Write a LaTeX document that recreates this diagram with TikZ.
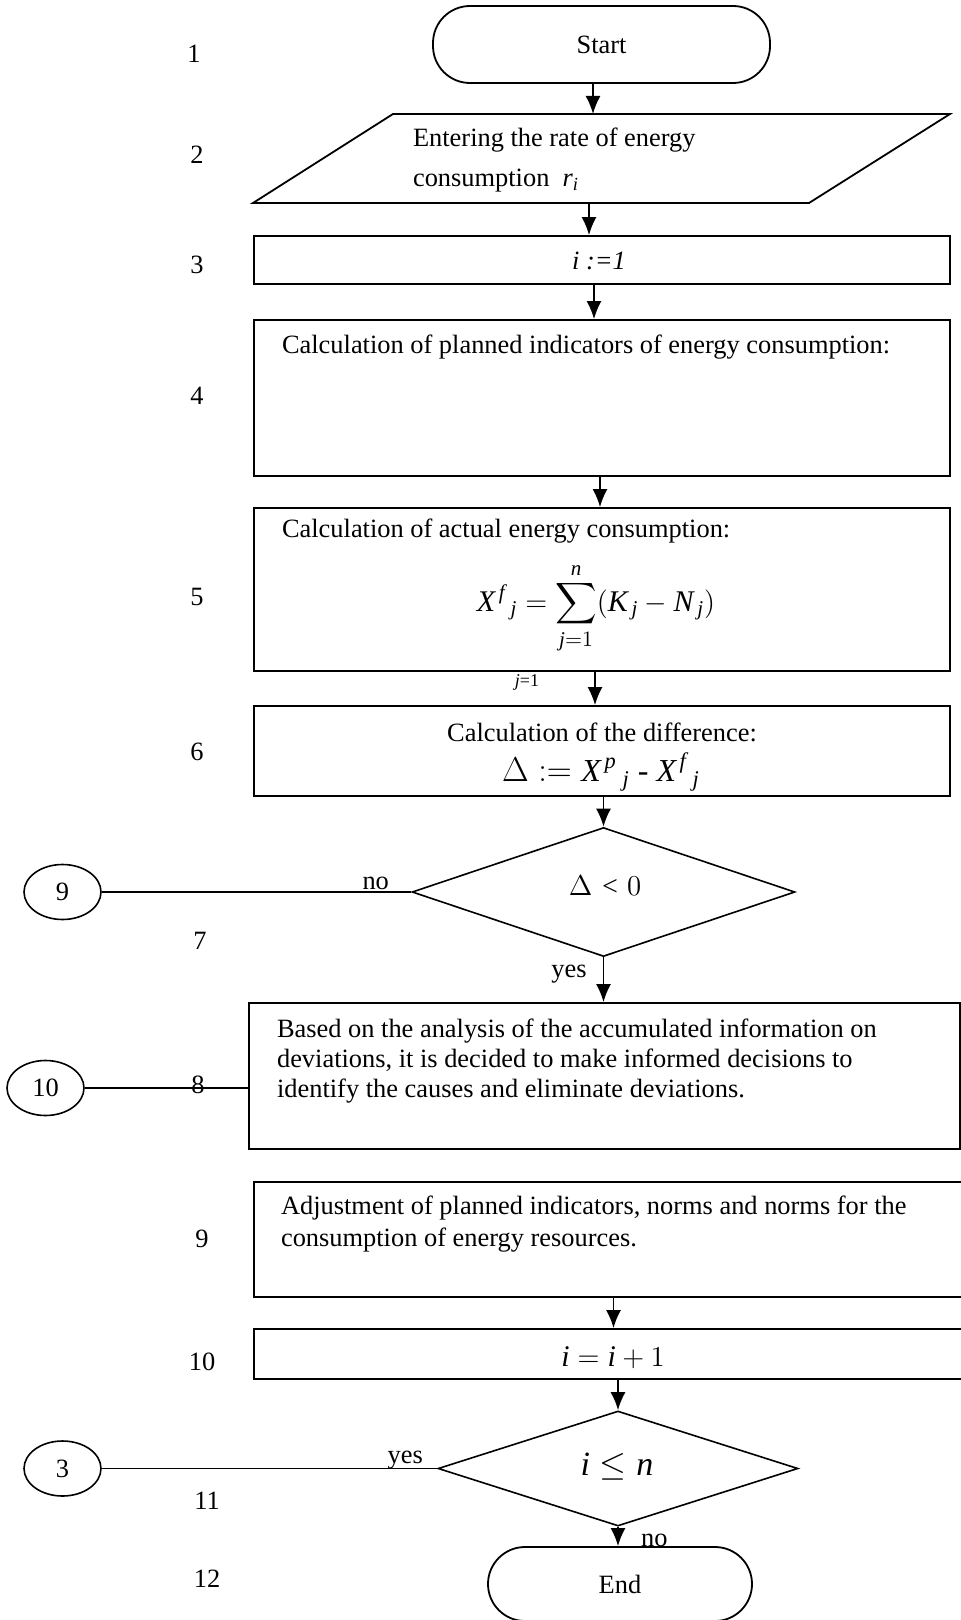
\documentclass[tikz,border=0pt]{standalone}
\usepackage{amsmath}
\usepackage{fontspec}
\setmainfont{Liberation Serif}
\DeclareSymbolFont{letters}{TU}{\rmdefault}{m}{it}
\usetikzlibrary{shapes.geometric,arrows.meta}
\tikzset{>={Latex[length=9pt,width=7.5pt]}}
\tikzset{
  blk/.style={draw,line width=0.9pt,inner sep=0pt},
  term/.style={blk,rounded corners=18.5pt},
  dec/.style={draw,diamond,line width=0.8pt,inner sep=0pt},
  conn/.style={draw,ellipse,line width=0.8pt,inner sep=0pt,minimum width=38.5pt,minimum height=27.5pt},
  arr/.style={->,line width=0.9pt},
  lnk/.style={line width=0.8pt},
  big/.style={font=\fontsize{15pt}{18pt}\selectfont},
}

\begin{document}
\begin{tikzpicture}[x=0.5pt,y=-0.5pt,font=\fontsize{13.2pt}{15pt}\selectfont]
\useasboundingbox (0,0) rectangle (961,1620);
% step numbers
\foreach \n/\x/\y in {1/194/54,2/197/155,3/197/265,4/197/396,5/197/597,6/197/752,
  7/200/941,8/198/1085,9/202/1239,10/202/1362,11/207/1501,12/207/1579}
  \node (n\n) at (\x,\y) {\n};
% 1 start
\node[term,minimum width=168.5pt,minimum height=38.5pt] (start) at (601.5,44.5) {Start};
% 2 input
\draw[line width=0.9pt] (393,114) -- (950,114) -- (809,203) -- (253,203) -- cycle;
\coordinate (intop) at (593,114);
\coordinate (inbot) at (589,203);
\node[anchor=west,align=left,font=\fontsize{13.2pt}{20pt}\selectfont] (intxt) at (406,160)
  {Entering the rate of energy\\consumption\ \ $r_{i}$};
% 3 init
\node[blk,minimum width=348pt,minimum height=24pt] (b3) at (602,260) {};
\node (t3) at (599,261) {\textit{i :=1}};
% 4 planned
\node[blk,minimum width=348pt,minimum height=78pt] (b4) at (602,398) {};
\node[anchor=west] (t4) at (275,347) {Calculation of planned indicators of energy consumption:};
% 5 actual
\node[blk,minimum width=348pt,minimum height=81.5pt] (b5) at (602,589.5) {};
\node[anchor=west,inner ysep=0.5pt] (t5) at (275,531) {Calculation of actual energy consumption:};
\node[big,inner sep=0.5pt] (f5) at (596,608) {$\displaystyle X^{\,f}\,{}_{j}=\sum_{j=1}^{n}(K_{\,j}-N_{\,j})$};
\node[font=\fontsize{9pt}{10pt}\selectfont] (j1) at (527,682) {$j$=1};
% 6 difference
\node[blk,minimum width=348pt,minimum height=45pt] (b6) at (602,751) {};
\node (t6) at (602,732) {Calculation of the difference:};
\node[font=\fontsize{16pt}{19pt}\selectfont] (f6) at (601,772) {$\Delta \mathrel{:=} X^{\,p}\,{}_{j}$ - $X^{\,f}\,{}_{j}$};
% 7 check
\node[dec,minimum width=191.5pt,minimum height=64.5pt] (d7) at (603.5,892) {};
\node[font=\fontsize{14pt}{17pt}\selectfont] (t7) at (605,886) {$\Delta<0$};
\node[conn] (c9) at (62.5,892) {9};
\draw[lnk] (c9.east) -- (d7.west);
\node[anchor=base east] (no7) at (396,889) {no};
\node (yes7) at (569,974) {yes};
% 8 decisions
\node[blk,minimum width=355.5pt,minimum height=73pt] (b8) at (604.5,1076) {};
\node[anchor=west,align=left,font=\fontsize{13.2pt}{14.8pt}\selectfont] (t8) at (270,1061)
  {Based on the analysis of the accumulated information on\\deviations, it is decided to make informed decisions to\\identify the causes and eliminate deviations.};
\node[conn] (c10) at (45.5,1088) {10};
\draw[lnk] (c10.east) -- (b8.west |- c10.east);
% 9 adjustment
\node[blk,minimum width=354.5pt,minimum height=57.5pt] (b9) at (608.5,1239.5) {};
\node[anchor=west,align=left,font=\fontsize{13.2pt}{16pt}\selectfont] (t9) at (274,1224)
  {Adjustment of planned indicators, norms and norms for the\\consumption of energy resources.};
% 10 next
\node[blk,minimum width=354.5pt,minimum height=25pt] (b10) at (608.5,1354) {};
\node[font=\fontsize{15pt}{18pt}\selectfont] (t10) at (613,1358) {$i=i+1$};
% 11 loop
\node[dec,minimum width=180pt,minimum height=57.5pt] (d11) at (618,1468.5) {};
\node[font=\fontsize{17pt}{20pt}\selectfont] (t11) at (617,1467) {$i\le n$};
\node[conn] (c3) at (62.5,1468.5) {3};
\draw[lnk] (c3.east) -- (d11.west);
\node[anchor=base east] (yes11) at (430,1463) {yes};
% 12 end
\node[term,minimum width=132pt,minimum height=37pt] (end) at (620,1584) {End};
\node[anchor=base west] (no11) at (634,1546) {no};
% arrows
\draw[arr] (start.south -| intop) -- (intop);
\draw[arr] (inbot) -- (b3.north -| inbot);
\draw[arr] ([xshift=-4pt]b3.south) -- ([xshift=-4pt]b4.north);
\draw[arr] ([xshift=-1pt]b4.south) -- ([xshift=-1pt]b5.north);
\draw[arr] ([xshift=-3.5pt]b5.south) -- ([xshift=-3.5pt]b6.north);
\draw[arr] (b6.south -| d7.north) -- (d7.north);
\draw[arr] (d7.south) -- (d7.south |- b8.north);
\draw[arr] ([xshift=2.5pt]b9.south) -- ([xshift=2.5pt]b10.north);
\draw[arr] (b10.south -| d11.north) -- (d11.north);
\draw[arr] (d11.south) -- (d11.south |- end.north);
\end{tikzpicture}
\end{document}
